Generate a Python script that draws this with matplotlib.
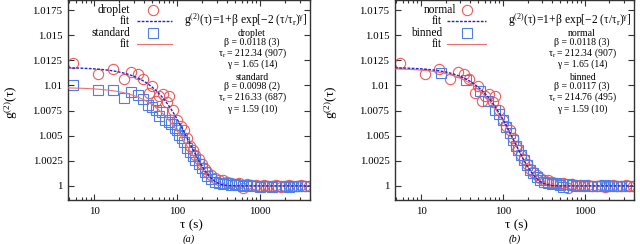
import numpy as np
import matplotlib
matplotlib.use("Agg")
import matplotlib.pyplot as plt
from matplotlib import ticker

plt.rcParams['font.family'] = ['Liberation Serif', 'DejaVu Serif']
plt.rcParams['mathtext.fontset'] = 'custom'
plt.rcParams['mathtext.rm'] = 'Liberation Serif'
plt.rcParams['mathtext.it'] = 'Liberation Serif:italic'
plt.rcParams['mathtext.default'] = 'rm'

# ---------------- data ----------------
tau_a = [5.5, 11.2, 16.7, 22.5, 28, 33.5, 39, 45, 50, 56, 61, 68, 75, 80, 90,
         100, 110, 121, 132, 143, 154, 165, 181, 198, 215, 231, 258, 286, 320,
         360, 400, 440, 495, 550, 620, 690, 780, 880, 990, 1110, 1240, 1400,
         1570, 1770, 2000, 2230, 2500, 2800, 3150, 3500, 3850]
droplet = [1.0122, 1.0111, 1.0116, 1.0106, 1.0113, 1.0111, 1.0106, 1.0092, 1.0099,
           1.0085, 1.0089, 1.0091, 1.0084, 1.0089, 1.0076, 1.0066, 1.0060, 1.0056,
           1.0048, 1.0040, 1.0036, 1.0031, 1.0027, 1.0022, 1.0017, 1.0014, 1.0011,
           1.0008, 1.0006, 1.0006, 1.0004, 1.0003, 1.0002, 1.0003, 0.9998, 1.0002,
           1.0001, 1.0001, 1.0000, 1.0001, 1.0000, 1.0000, 1.0001, 0.9999, 1.0000,
           1.0001, 1.0000, 1.0000, 1.0001, 1.0000, 1.0000]

tau_s = [5.5, 11.2, 16.7, 22.5, 28, 33.5, 39, 44, 50, 56, 61, 66, 72, 79, 85, 93,
         100, 106, 113, 121, 132, 143, 154, 165, 181, 198, 215, 231, 258, 286,
         320, 360, 400, 440, 495, 550, 620, 690, 780, 880, 990, 1110, 1240, 1400,
         1570, 1770, 2000, 2230, 2500, 2800, 3150, 3500]
standard = [1.0100, 1.0095, 1.0095, 1.0087, 1.0093, 1.0090, 1.0086, 1.0081, 1.0079,
            1.0076, 1.0070, 1.0074, 1.0066, 1.0064, 1.0062, 1.0058, 1.0056, 1.0051,
            1.0048, 1.0044, 1.0038, 1.0034, 1.0030, 1.0026, 1.0022, 1.0018, 1.0014,
            1.0010, 1.0007, 1.0004, 1.0003, 1.0002, 1.0003, 1.0001, 1.0002, 1.0001,
            1.0000, 1.0001, 1.0000, 1.0000, 0.9999, 1.0000, 1.0000, 0.9999, 1.0000,
            1.0000, 1.0000, 0.9999, 1.0000, 1.0000, 1.0000, 1.0000]

tau_n = tau_a
normal = droplet

tau_b = [17.5, 35, 53, 66, 80, 90, 100, 110, 121, 132, 143, 154, 165, 181, 198,
         215, 231, 258, 286, 320, 360, 400, 440, 495, 550, 620, 690, 780, 880,
         990, 1110, 1240, 1400, 1570, 1770, 2000, 2230, 2500, 2800, 3150, 3500]
binned = [1.0112, 1.0105, 1.0094, 1.0085, 1.0076, 1.0072, 1.0066, 1.0059, 1.0053,
          1.0046, 1.0040, 1.0036, 1.0031, 1.0026, 1.0021, 1.0016, 1.0013, 1.0009,
          1.0006, 1.0004, 1.0003, 1.0002, 1.0003, 1.0001, 0.9999, 1.0002, 1.0001,
          1.0000, 1.0000, 1.0001, 1.0000, 1.0000, 1.0000, 1.0000, 1.0001, 1.0000,
          1.0000, 1.0000, 1.0000, 1.0000, 1.0000]

# fit parameters printed on the chart: (beta, tau_r, gamma)
fit_droplet = (0.0118, 212.34, 1.65)
fit_standard = (0.0098, 216.33, 1.59)
fit_normal = (0.0118, 212.34, 1.65)
fit_binned = (0.0117, 214.76, 1.59)

yticks = [1.0, 1.0025, 1.005, 1.0075, 1.01, 1.0125, 1.015, 1.0175]
xticks = [10, 100, 1000]

RED = '#f05a5a'
BLUE = '#4f7fe6'
DBLUE = '#2424cc'
LRED = '#f07070'

W, H = 640, 244
fig = plt.figure(figsize=(W / 100, H / 100), dpi=100)


def model(t, p):
    b, tr, g = p
    return 1 + b * np.exp(-2 * (t / tr) ** g)


def panel(rect, t1, y1, t2, y2, p1, p2, names, params_txt, legx, letter, ylab_x):
    ax = fig.add_axes(rect)
    ax.set_xscale('log')
    ax.set_xlim(4.8, 4000)
    ax.set_ylim(0.9986, 1.0185)
    tt = np.logspace(np.log10(4.8), np.log10(4000), 400)
    ax.plot(t1, y1, 'o', ms=7.4, mfc='none', mec=RED, mew=0.8, zorder=2)
    ax.plot(t2, y2, 's', ms=6.8, mfc='none', mec=BLUE, mew=0.8, zorder=2)
    ax.plot(tt, model(tt, p2), '-', color=LRED, lw=0.8, zorder=3)
    ax.plot(tt, model(tt, p1), '--', color=DBLUE, lw=1.0, dashes=(2, 1), zorder=4)

    ax.set_yticks(yticks)
    ax.yaxis.set_major_formatter(ticker.FuncFormatter(
        lambda v, p: f'{v:.4f}'.rstrip('0').rstrip('.')))
    ax.set_xticks(xticks)
    ax.xaxis.set_major_formatter(ticker.FuncFormatter(lambda v, p: f'{v:g}'))
    ax.xaxis.set_minor_locator(ticker.LogLocator(base=10, subs=np.arange(2, 10)))
    ax.xaxis.set_minor_formatter(ticker.NullFormatter())
    ax.tick_params(which='both', direction='in', top=True, right=True,
                   labelsize=7.8, color='#333333', width=0.8)
    ax.tick_params(which='major', length=4)
    ax.tick_params(which='minor', length=2)
    ax.tick_params(axis='y', pad=4)
    ax.tick_params(axis='x', pad=5)
    for s in ax.spines.values():
        s.set_linewidth(1.0)
        s.set_color('#333333')

    ax.set_ylabel(r'$\mathrm{g^{(2)}(τ)}$', fontsize=9.5)
    ax.yaxis.set_label_coords(ylab_x, 0.49)
    ax.text(0.51, -0.125, 'τ (s)', transform=ax.transAxes, ha='center',
            va='center', fontsize=9.5)
    ax.text(0.50, -0.195, letter, transform=ax.transAxes, ha='center',
            va='center', fontsize=7.5, style='italic')

    # legend (gnuplot style: right-aligned text then sample)
    tx, mx, l0, l1, tx0 = legx
    rows = [0.95, 0.895, 0.835, 0.78]
    ax.text(tx0, rows[0], names[0], transform=ax.transAxes, ha='right',
            va='center', fontsize=8.3)
    ax.text(tx, rows[1], 'fit', transform=ax.transAxes, ha='right',
            va='center', fontsize=8.3)
    ax.text(tx, rows[2], names[1], transform=ax.transAxes, ha='right',
            va='center', fontsize=8.3)
    ax.text(tx, rows[3], 'fit', transform=ax.transAxes, ha='right',
            va='center', fontsize=8.3)
    ax.plot([mx], [rows[0]], 'o', ms=7.4, mfc='none', mec=RED, mew=0.8,
            transform=ax.transAxes, clip_on=False)
    ax.plot([l0, l1], [rows[1]] * 2, '--', color=DBLUE, lw=1.0, dashes=(2, 1),
            transform=ax.transAxes, clip_on=False)
    ax.plot([mx], [rows[2]], 's', ms=6.8, mfc='none', mec=BLUE, mew=0.8,
            transform=ax.transAxes, clip_on=False)
    ax.plot([l0, l1], [rows[3]] * 2, '-', color=LRED, lw=0.8,
            transform=ax.transAxes, clip_on=False)

    ax.text(0.99, 0.90, r'$\mathrm{g^{(2)}(τ)\!=\!1\!+\!β\ exp[-2\ (τ/τ_r)^{γ}]}$',
            transform=ax.transAxes, ha='right', va='center', fontsize=8.3)
    cx = params_txt[0]
    lines = params_txt[1]
    ax.text(cx, 0.857, '\n'.join(lines[:4]), transform=ax.transAxes, ha='center',
            va='top', fontsize=7.0, linespacing=0.95, multialignment='center')
    ax.text(cx, 0.634, '\n'.join(lines[4:]), transform=ax.transAxes, ha='center',
            va='top', fontsize=7.0, linespacing=0.95, multialignment='center')
    return ax


txt_a = ['droplet', 'β = 0.0118 (3)', r'$\mathrm{τ_r}$ = 212.34 (907)', 'γ = 1.65 (14)',
         'standard', 'β = 0.0098 (2)', r'$\mathrm{τ_r}$ = 216.33 (687)', 'γ = 1.59 (10)']
txt_b = ['normal', 'β = 0.0118 (3)', r'$\mathrm{τ_r}$ = 212.34 (907)', 'γ = 1.65 (14)',
         'binned', 'β = 0.0117 (3)', r'$\mathrm{τ_r}$ = 214.76 (495)', 'γ = 1.59 (10)']

panel([68 / W, 1 - 200 / H, 242 / W, 200 / H], tau_a, droplet, tau_s, standard,
      fit_droplet, fit_standard, ['droplet', 'standard'], (0.76, txt_a),
      (0.256, 0.351, 0.285, 0.43, 0.256), '(a)', -0.20)
panel([395 / W, 1 - 200 / H, 239 / W, 200 / H], tau_n, normal, tau_b, binned,
      fit_normal, fit_binned, ['normal', 'binned'], (0.782, txt_b),
      (0.197, 0.301, 0.218, 0.381, 0.255), '(b)', -0.23)

fig.savefig('out.png', dpi=100)
